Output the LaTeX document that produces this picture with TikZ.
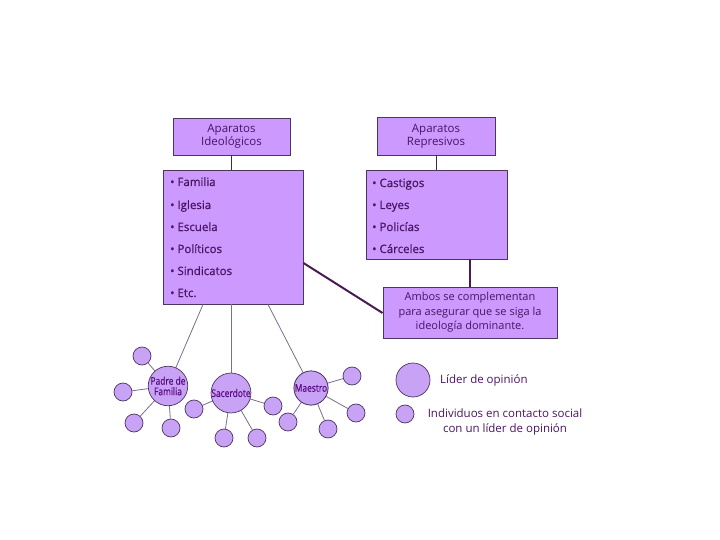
\documentclass[tikz,border=0pt]{standalone}
\usepackage{fontspec}
\setmainfont{Open Sans}
\definecolor{boxfill}{HTML}{CC99FF}
\definecolor{circfill}{HTML}{C8A2F4}
\definecolor{edge}{HTML}{4E3560}
\definecolor{txt}{HTML}{4A1462}
\definecolor{ctxt}{HTML}{5A0A80}
\definecolor{thin}{HTML}{7D6E8C}
\definecolor{thick}{HTML}{4A1A55}
\begin{document}
\begin{tikzpicture}[x=1pt,y=-1pt,
  box/.style={draw=edge,line width=0.9pt,fill=boxfill,inner sep=0pt,
     text=txt,font=\fontsize{11.5}{13}\selectfont,align=center},
  item/.style={anchor=base west,text=txt,inner sep=0pt,font=\fontsize{11.5}{12}\selectfont\addfontfeatures{FakeBold=0.6}},
  big/.style={circle,draw=edge,line width=0.7pt,fill=circfill,minimum size=34pt,inner sep=0pt,
     text=ctxt,font=\fontsize{10.5}{10.5}\selectfont\addfontfeatures{FakeStretch=0.8,FakeBold=0.5},align=center},
  small/.style={circle,draw=edge,line width=0.7pt,fill=circfill,minimum size=18pt,inner sep=0pt},
  thinline/.style={draw=thin,line width=0.8pt},
  thickline/.style={draw=thick,line width=2pt},
  midline/.style={draw=edge!80!black,line width=1pt},
  legtxt/.style={text=txt,inner sep=0pt,font=\fontsize{11.5}{15}\selectfont,align=center}]
\useasboundingbox[fill=white] (0,0) rectangle (720,540);

% header boxes
\node[box,minimum width=117pt,minimum height=37pt] (hid) at (231.5,136.5) {Aparatos\\Ideológicos};
\node[box,minimum width=118pt,minimum height=38pt] (hre) at (436,136) {Aparatos\\Represivos};

% list boxes
\node[box,minimum width=140pt,minimum height=134pt] (lid) at (233,237) {};
\node[box,minimum width=141pt,minimum height=89pt] (lre) at (436.5,214.5) {};

% conclusion box
\node[box,minimum width=174pt,minimum height=51pt,font=\fontsize{11}{14.5}\selectfont] (amb) at (470,312.5)
  {Ambos se complementan\\para asegurar que se siga la\\ideología dominante.};

% items
\node[item] (i1) at (170,186) {• Familia};
\node[item] (i2) at (170,209) {• Iglesia};
\node[item] (i3) at (170,231) {• Escuela};
\node[item] (i4) at (170,253) {• Políticos};
\node[item] (i5) at (170,275) {• Sindicatos};
\node[item] (i6) at (170,297) {• Etc.};
\node[item] (r1) at (372,187) {• Castigos};
\node[item] (r2) at (372,209) {• Leyes};
\node[item] (r3) at (372,231) {• Policías};
\node[item] (r4) at (372,253) {• Cárceles};

% connectors top
\draw[midline] (hid.south) -- (hid.south |- lid.north);
\draw[midline] (hre.south) -- (hre.south |- lre.north);
\draw[thickline] (lre.south -| amb.north) -- (amb.north);
\draw[thickline] (lid.east |- 0,263) -- (amb.west |- 0,313);

% leaders
\node[big] (p) at (168,386) {};
\node[big] (s) at (231,393) {};
\node[big] (m) at (311,388) {};

\draw[thinline] (lid.south -| 203,0) -- (p);
\draw[thinline] (lid.south -| s.north) -- (s);
\draw[thinline] (lid.south -| 268,0) -- (m);

% satellites
\foreach \n/\x/\y/\c in {p1/142/356/p,p2/123/392/p,p3/134/423/p,p4/171/428/p,
  s1/194/409/s,s2/224/438/s,s3/257/438/s,s4/273/406/s,
  m1/352/376/m,m2/288/422/m,m3/328/429/m,m4/356/413/m}{
  \node[small] (\n) at (\x,\y) {};
  \draw[thinline] (\c) -- (\n);
}
% leaders on top, with labels
\node[big] (pl) at (p) {Padre de\\Familia};
\node[big] (sl) at (s) {Sacerdote};
\node[big] (ml) at (m) {Maestro};

% legend
\node[big] (lb) at (413,380) {};
\node[small] (ls) at (405,414) {};
\node[legtxt,anchor=west] (lt1) at (440,380) {Líder de opinión};
\node[legtxt] (lt2) at (505,422) {Individuos en contacto social\\con un líder de opinión};
\end{tikzpicture}
\end{document}
